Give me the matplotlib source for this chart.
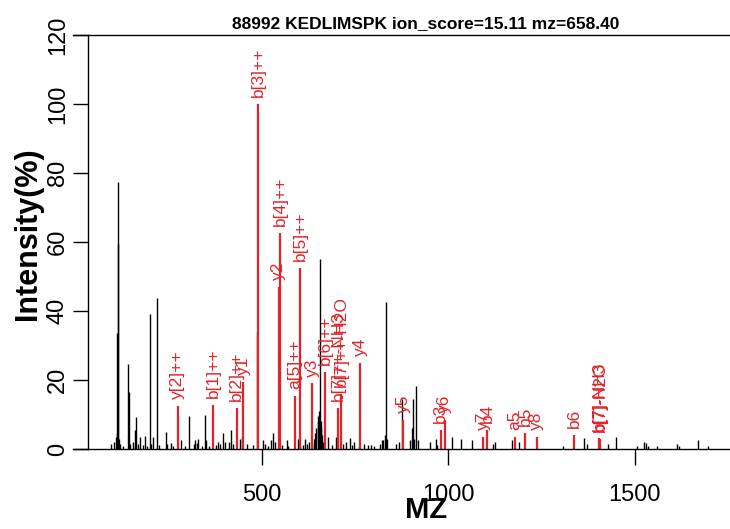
import matplotlib
matplotlib.use('Agg')
import matplotlib.pyplot as plt

# Шрифт, похожий на Arial
plt.rcParams['font.family'] = ['Liberation Sans', 'DejaVu Sans']

# Неподписанные пики (черные): m/z и интенсивность, %
mz_black = [97, 104, 110, 113, 114, 115, 116, 118, 121, 128, 143, 145, 147, 155, 160,
            163, 168, 174, 182, 187, 194, 201, 204, 210, 219, 226, 244, 248, 257, 262,
            283, 296, 305, 318, 323, 327, 331, 340, 348, 352, 360, 379, 384, 388, 398,
            402, 412, 418, 423, 442, 447, 460, 477, 489, 504, 510, 518, 526, 531, 536,
            556, 567, 571, 598, 602, 610, 616, 622, 628, 636, 640, 644, 647, 650, 652,
            654, 656, 658, 660, 662, 665, 677, 688, 699, 718, 725, 737, 742, 749, 760,
            775, 785, 792, 800, 817, 822, 826, 830, 834, 837, 860, 868, 877, 898, 903,
            905, 908, 915, 918, 951, 966, 970, 1009, 1033, 1065, 1120, 1125, 1171, 1189,
            1308, 1363, 1372, 1427, 1449, 1507, 1525, 1529, 1536, 1558, 1612, 1619,
            1668, 1695]
int_black = [1.5, 2, 3.5, 4.5, 33.6, 77.5, 59.5, 3, 1.5, 1, 24.6, 16.5, 1.5, 2, 5.5,
             9.4, 1.5, 3.6, 1.2, 3.8, 1, 39, 1.5, 3.5, 43.7, 1.2, 4.8, 1.5, 1.6, 1,
             2.5, 1, 9.7, 1.5, 2.5, 1.8, 3, 1, 10, 2.5, 1, 1.2, 2, 1.5, 4.6,
             2, 2, 5.5, 1.5, 3, 3.5, 1.5, 1.2, 34, 2.5, 1.5, 1, 2.5, 4.5, 2,
             1.2, 2.5, 1, 3, 1, 1.2, 3, 1.5, 2, 1.5, 3, 4.5, 6, 9.5, 8,
             11, 55, 8, 6, 4, 2, 3.4, 1.2, 3.5, 1.5, 2, 3.2, 1.2, 2, 1,
             1.5, 1.2, 1.2, 1, 1.5, 2.5, 2.5, 4, 42.7, 3, 1.5, 2, 14.5, 2.5, 6,
             14.5, 3, 18.3, 2.5, 2, 3, 1.2, 3.5, 3, 2.5, 1.4, 2, 2.6, 2,
             1, 3.1, 1.5, 1.5, 3.4, 1, 2, 1.8, 1, 1, 1.5, 1,
             2.5, 1]

# Подписанные ионы (красные)
mz_ion = [275, 370, 434, 451, 491, 546, 550, 589, 604, 635, 671, 705, 713, 765,
          880, 980, 991, 1094, 1104, 1179, 1206, 1237, 1338, 1404, 1407]
int_ion = [12.5, 12.7, 12, 19.5, 100, 47, 62.7, 15.5, 52.6, 19, 22.4, 12, 16, 25,
           8.5, 5.5, 8.5, 3.5, 5.5, 3.5, 4.6, 3.5, 4, 3.2, 3.0]
ion_labels = ['y[2]++', 'b[1]++', 'b[2]++', 'y1', 'b[3]++', 'y2', 'b[4]++', 'a[5]++',
              'b[5]++', 'y3', 'b[6]++', 'b[7]++-NH3', 'b[7]++-H2O', 'y4', 'y5', 'b3',
              'y6', 'y7', 'b4', 'a5', 'b5', 'y8', 'b6', 'b[7]-NH3', 'b[7]-H2O']

x_ticks = [500, 1000, 1500]
y_ticks = [0, 20, 40, 60, 80, 100, 120]

red = '#e2232a'

fig = plt.figure(figsize=(7.3, 5.29), dpi=100)
# Область графика выходит за правый край картинки (как в исходнике)
ax = fig.add_axes([0.1, 0.1512, 0.9671, 0.7826])

ax.vlines(mz_black, 0, int_black, colors='black', linewidth=1.0)
ax.vlines(mz_ion, 0, int_ion, colors=red, linewidth=1.6)
for m, v, lab in zip(mz_ion, int_ion, ion_labels):
    ax.annotate(lab, (m, v), xytext=(0, 5), textcoords='offset points',
                rotation=90, ha='center', va='bottom', color=red, fontsize=12.5)

ax.set_xlim(-5, 1886)
ax.set_ylim(0, 120)
ax.set_xticks(x_ticks)
ax.set_yticks(y_ticks)

# Оси в стиле R: ось Y сдвинута, сверху линия, справа нет
ax.spines['right'].set_visible(False)
ax.spines['left'].set_position(('data', 35))
for s in ['left', 'bottom', 'top']:
    ax.spines[s].set_linewidth(1.0)

ax.tick_params(axis='x', direction='out', length=11.5, width=1.0, labelsize=17, pad=14)
ax.tick_params(axis='y', direction='out', length=10.8, width=1.0, labelsize=17, pad=3,
               labelrotation=90)
for lbl in ax.get_yticklabels():
    lbl.set_va('center')

ax.set_title('88992 KEDLIMSPK ion_score=15.11 mz=658.40', fontsize=12.5,
             fontweight='bold', pad=5)
ax.set_xlabel('MZ', fontsize=21, fontweight='bold')
ax.set_ylabel('Intensity(%)', fontsize=22, fontweight='bold')
ax.xaxis.set_label_coords(0.5, -0.113)
ax.yaxis.set_label_coords(-0.0425, 0.52)

fig.savefig('out.png', dpi=100)
